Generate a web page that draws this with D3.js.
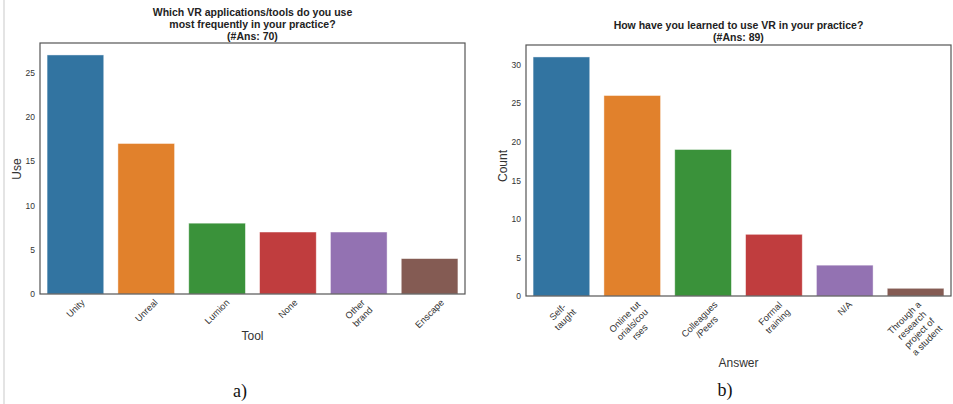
<!DOCTYPE html>
<html>
<head>
<meta charset="utf-8">
<script src="https://cdn.jsdelivr.net/npm/d3@7"></script>
<style>
  html, body { margin: 0; padding: 0; background: #fff; }
  svg { display: block; }
</style>
</head>
<body>
<svg id="chart" width="953" height="404"></svg>
<script>
// ---- data ----
const toolCategories = ["Unity", "Unreal", "Lumion", "None", "Other\nbrand", "Enscape"];
const toolValues = [27, 17, 8, 7, 7, 4];
const toolTicks = [0, 5, 10, 15, 20, 25];
const toolTitle = ["Which VR applications/tools do you use", "most frequently in your practice?", "(#Ans: 70)"];

const learnCategories = ["Self-\ntaught", "Online tut\norials/cou\nrses", "Colleagues\n/Peers", "Formal\ntraining", "N/A", "Through a\nresearch\nproject of\na student"];
const learnValues = [31, 26, 19, 8, 4, 1];
const learnTicks = [0, 5, 10, 15, 20, 25, 30];
const learnTitle = ["How have you learned to use VR in your practice?", "(#Ans: 89)"];

const barColors = ["#3274a1", "#e1812c", "#3a923a", "#c03d3e", "#9372b2", "#845b53"];

const svg = d3.select("#chart");
const FONT = "'Liberation Sans', Arial, sans-serif";

// light frame on left edge
svg.append("rect").attr("x", 3).attr("y", 0).attr("width", 2).attr("height", 404).attr("fill", "#e4e4e4");

function panel(cfg) {
  const g = svg.append("g");
  const x = d3.scaleBand().domain(cfg.cats).range([cfg.x0, cfg.x1]).paddingInner(0.2).paddingOuter(0.1);
  const y = d3.scaleLinear().domain([0, d3.max(cfg.vals) * 1.05]).range([cfg.y1, cfg.y0]);

  // bars
  g.selectAll("rect.bar").data(cfg.vals).enter().append("rect")
    .attr("x", (d, i) => x(cfg.cats[i]))
    .attr("width", x.bandwidth())
    .attr("y", d => y(d))
    .attr("height", d => y(0) - y(d))
    .attr("fill", (d, i) => barColors[i])
    .attr("stroke", "#ffffff").attr("stroke-opacity", 0.55).attr("stroke-width", 0.8);

  // frame
  g.append("rect").attr("x", cfg.x0).attr("y", cfg.y0)
    .attr("width", cfg.x1 - cfg.x0).attr("height", cfg.y1 - cfg.y0)
    .attr("fill", "none").attr("stroke", "#555").attr("stroke-width", 1.2);

  // y axis (labels only)
  const ya = g.append("g").attr("transform", `translate(${cfg.x0},0)`)
    .call(d3.axisLeft(y).tickValues(cfg.ticks).tickSize(0).tickPadding(5));
  ya.select(".domain").remove();
  ya.selectAll("text").attr("font-family", FONT).attr("font-size", 8.5).attr("fill", "#333");

  // x tick labels, rotated 45deg, centered (matplotlib style)
  const fs = 9.3, lh = fs * 1.15;
  cfg.cats.forEach((c, i) => {
    const lines = c.split("\n");
    const cx = x(c) + x.bandwidth() / 2;
    const tg = g.append("g");
    const t = tg.append("text").attr("font-family", FONT).attr("font-size", fs)
      .attr("fill", "#333").attr("text-anchor", "middle");
    lines.forEach((ln, k) => {
      t.append("tspan").attr("x", 0)
        .attr("y", (k - (lines.length - 1) / 2) * lh + fs * 0.35)
        .text(ln);
    });
    let w = 0;
    t.selectAll("tspan").each(function () { w = Math.max(w, this.getComputedTextLength()); });
    const h = lines.length * lh;
    const D = (w + h) / Math.SQRT2;
    tg.attr("transform", `translate(${cx},${cfg.y1 + 3 + D / 2}) rotate(-45)`);
  });

  // title
  const tt = g.append("text").attr("font-family", FONT).attr("font-size", 10.5)
    .attr("font-weight", "bold").attr("fill", "#222").attr("text-anchor", "middle");
  cfg.title.forEach((ln, k) => {
    tt.append("tspan").attr("x", (cfg.x0 + cfg.x1) / 2).attr("y", cfg.titleY + k * 12).text(ln);
  });

  // axis labels
  g.append("text").attr("font-family", FONT).attr("font-size", 12).attr("fill", "#333")
    .attr("text-anchor", "middle")
    .attr("transform", `translate(${cfg.ylabX},${cfg.ylabY}) rotate(-90)`)
    .text(cfg.ylab);
  g.append("text").attr("font-family", FONT).attr("font-size", 12).attr("fill", "#333")
    .attr("text-anchor", "middle").attr("x", (cfg.x0 + cfg.x1) / 2).attr("y", cfg.xlabY)
    .text(cfg.xlab);

  // caption
  g.append("text").attr("font-family", "'Liberation Serif', 'DejaVu Serif', serif").attr("font-size", 18)
    .attr("fill", "#111").attr("text-anchor", "middle").attr("x", cfg.capX).attr("y", cfg.capY)
    .text(cfg.cap);
}

panel({
  cats: toolCategories, vals: toolValues, ticks: toolTicks, title: toolTitle,
  x0: 40, x1: 465, y0: 43, y1: 294, titleY: 16,
  ylab: "Use", ylabX: 21, ylabY: 169, xlab: "Tool", xlabY: 340,
  cap: "a)", capX: 240, capY: 397
});

panel({
  cats: learnCategories, vals: learnValues, ticks: learnTicks, title: learnTitle,
  x0: 526, x1: 951, y0: 45, y1: 296, titleY: 29,
  ylab: "Count", ylabX: 507, ylabY: 166, xlab: "Answer", xlabY: 367,
  cap: "b)", capX: 725, capY: 396
});
</script>
</body>
</html>
